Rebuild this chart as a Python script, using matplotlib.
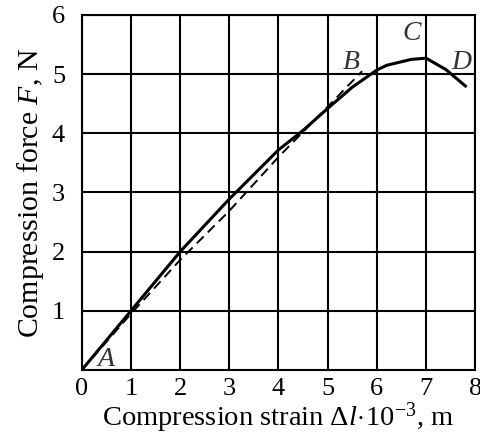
import numpy as np
import matplotlib.pyplot as plt

plt.rcParams['font.family'] = ['Liberation Serif', 'DejaVu Serif']
plt.rcParams['mathtext.fontset'] = 'custom'
plt.rcParams['mathtext.rm'] = 'Liberation Serif'
plt.rcParams['mathtext.it'] = 'Liberation Serif:italic'

# measured loading curve
strain = [0.0, 1.0, 2.0, 3.0, 4.0, 4.5, 5.0, 5.5, 6.0, 6.2, 6.7, 7.0, 7.4, 7.8]
force = [0.0, 1.0, 2.0, 2.89, 3.72, 4.05, 4.42, 4.78, 5.07, 5.15, 5.25, 5.27, 5.08, 4.8]

# linear (elastic) approximation A-B
lin_strain = [0.0, 1.0, 2.0, 3.0, 4.0, 5.0, 5.7]
lin_force = [0.0, 0.95, 1.86, 2.69, 3.6, 4.45, 5.05]

# point labels
pt_names = ['A', 'B', 'C', 'D']
pt_x = [0.49, 5.47, 6.71, 7.71]
pt_y = [0.17, 5.2, 5.68, 5.2]

fig = plt.figure(figsize=(4.81, 4.41), dpi=100)
ax = fig.add_axes([0.170, 0.161, 0.818, 0.805])

ax.plot(lin_strain, lin_force, color='black', lw=1.4, ls=(0, (5, 3)), zorder=3)
ax.plot(strain, force, color='black', lw=2.2, zorder=4)

for name, x, y in zip(pt_names, pt_x, pt_y):
    ax.text(x, y, name, fontsize=20, style='italic', color='#333333',
            ha='center', va='center', zorder=5)

ax.set_xlim(0, 8)
ax.set_ylim(0, 6)
ax.set_xticks(range(0, 9))
ax.set_yticks(range(1, 7))
ax.grid(True, color='black', lw=1.5)
ax.set_axisbelow(True)
for sp in ax.spines.values():
    sp.set_linewidth(1.5)
ax.tick_params(length=0, labelsize=19)
ax.tick_params(axis='x', pad=6)
ax.tick_params(axis='y', pad=12)

ax.set_xlabel(r'Compression strain $\Delta l\!\cdot\!10^{-3}$, m', fontsize=20.5, labelpad=0)
ax.set_ylabel(r'Compression force $F$, N', fontsize=21.5, labelpad=4)

fig.savefig('out.png', dpi=100)
